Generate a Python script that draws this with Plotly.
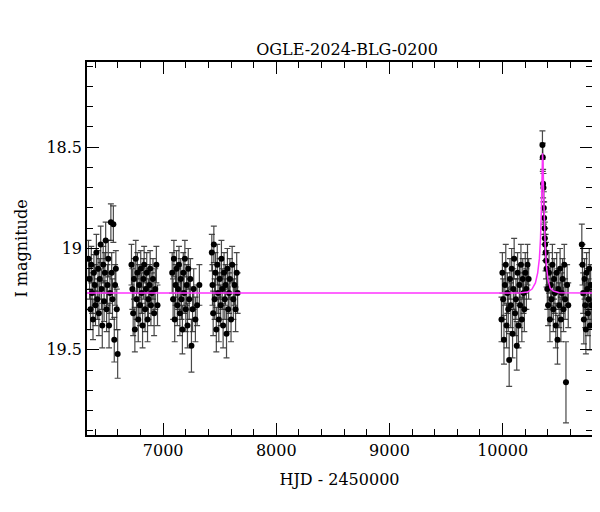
import plotly.graph_objects as go

# observations: HJD-2450000, I mag, error
hjd = [6340,6350,6358,6365,6372,6380,6388,6395,6402,6410,6418,6425,6432,6440,6448,6455,6462,6470,6478,6485,6492,6500,6508,6515,6522,6530,6538,6545,6552,6560,6568,6575,6582,6590,6598,
       6720,6728,6735,6742,6750,6758,6765,6772,6780,6788,6795,6802,6810,6818,6825,6832,6840,6848,6855,6862,6870,6878,6885,6892,6900,6910,6920,6930,6940,6950,
       7080,7088,7095,7102,7110,7118,7125,7132,7140,7148,7155,7162,7170,7178,7185,7192,7200,7208,7215,7222,7230,7240,7250,7260,7270,7285,7300,7320,
       7430,7436,7442,7448,7455,7462,7470,7478,7485,7492,7500,7508,7515,7522,7530,7538,7545,7552,7560,7568,7575,7582,7590,7600,7610,7620,7630,7640,7650,7658,
       9990,9998,10005,10012,10020,10028,10035,10042,10050,10058,10065,10072,10080,10088,10095,10102,10110,10118,10125,10132,10140,10148,10155,10162,10170,10178,10185,10192,10200,10210,10220,10230,
       10352,10355,10358,10361,10364,10367,10370,10373,10376,10380,10384,10388,
       10395,10402,10410,10418,10425,10432,10440,10448,10455,10462,10470,10478,10485,10492,10500,10508,10515,10522,10530,10538,10545,10552,10560,10570,10580,
       10700,10706,10712,10718,10724,10730,10736,10742,10748,10754,10760,10766,10772,10778,10784]
mag = [19.05,19.15,19.30,19.08,19.22,19.35,19.12,19.18,19.28,19.02,19.25,19.10,19.32,19.15,18.98,19.20,19.38,19.08,19.26,19.12,18.96,19.30,19.18,19.05,19.38,19.22,18.87,19.12,19.25,18.88,19.45,19.18,19.10,19.30,19.52,
       19.08,19.20,19.32,19.15,19.40,19.05,19.25,19.12,19.35,19.18,19.28,19.10,19.22,19.38,19.15,19.08,19.30,19.20,19.12,19.35,19.25,19.18,19.10,19.28,19.22,19.15,19.32,19.20,19.08,19.28,
       19.12,19.25,19.05,19.35,19.18,19.10,19.28,19.20,19.08,19.32,19.15,19.25,19.40,19.12,19.22,19.05,19.30,19.18,19.38,19.10,19.25,19.15,19.48,19.30,19.20,19.35,19.28,19.18,
       19.02,19.18,19.32,18.98,19.25,19.12,19.40,19.08,19.22,19.35,19.15,19.28,19.05,19.20,19.38,19.12,19.25,19.18,19.42,19.10,19.30,19.22,19.15,19.35,19.08,19.25,19.18,19.30,19.12,19.22,
       19.35,19.12,19.25,19.45,19.18,19.08,19.38,19.22,19.30,19.55,19.15,19.28,19.10,19.42,19.20,19.05,19.32,19.25,19.48,19.12,19.38,19.18,19.28,19.08,19.35,19.15,19.22,19.30,19.12,19.20,19.08,19.15,
       18.49,18.55,18.68,18.70,18.80,18.85,18.90,18.95,18.98,19.02,19.06,19.10,
       19.20,19.28,19.12,19.35,19.18,19.25,19.08,19.30,19.15,19.22,19.38,19.12,19.45,19.20,19.28,19.10,19.35,19.22,19.15,19.30,19.08,19.25,19.66,19.18,19.28,
       18.98,19.08,19.22,19.35,19.15,19.28,19.40,19.12,19.20,19.32,19.25,19.10,19.38,19.18,19.28]
err = [0.09,0.10,0.10,0.09,0.10,0.10,0.09,0.10,0.10,0.09,0.10,0.09,0.11,0.10,0.09,0.10,0.11,0.09,0.10,0.10,0.09,0.11,0.10,0.09,0.11,0.10,0.09,0.10,0.10,0.09,0.11,0.10,0.09,0.10,0.12,
       0.10,0.10,0.11,0.10,0.11,0.09,0.10,0.10,0.11,0.10,0.10,0.09,0.10,0.11,0.10,0.09,0.11,0.10,0.10,0.11,0.10,0.10,0.09,0.10,0.10,0.10,0.11,0.10,0.09,0.10,
       0.10,0.10,0.09,0.11,0.10,0.09,0.10,0.10,0.09,0.11,0.10,0.10,0.12,0.10,0.10,0.09,0.11,0.10,0.11,0.10,0.10,0.10,0.13,0.11,0.10,0.11,0.10,0.10,
       0.09,0.10,0.11,0.09,0.10,0.10,0.11,0.10,0.10,0.11,0.10,0.10,0.09,0.10,0.11,0.10,0.10,0.10,0.12,0.10,0.11,0.10,0.10,0.11,0.09,0.10,0.10,0.11,0.10,0.10,
       0.11,0.10,0.10,0.12,0.10,0.10,0.11,0.10,0.11,0.13,0.10,0.11,0.10,0.12,0.10,0.10,0.11,0.10,0.12,0.10,0.11,0.10,0.11,0.10,0.11,0.10,0.10,0.11,0.10,0.10,0.10,0.10,
       0.07,0.07,0.07,0.07,0.08,0.08,0.08,0.08,0.08,0.09,0.09,0.09,
       0.10,0.10,0.10,0.11,0.10,0.10,0.10,0.11,0.10,0.10,0.11,0.10,0.12,0.10,0.11,0.10,0.11,0.10,0.10,0.11,0.10,0.10,0.20,0.10,0.11,
       0.10,0.10,0.10,0.12,0.10,0.11,0.12,0.10,0.10,0.11,0.10,0.10,0.12,0.10,0.11]

# microlensing model curve, sampled
model_t = [6327,10150,10220,10260,10290,10310,10325,10335,10343,10349,10353,10357,10362,10368,10376,10386,10400,10420,10450,10500,10790]
model_m = [19.22,19.22,19.215,19.20,19.17,19.12,19.05,18.95,18.80,18.64,18.53,18.58,18.72,18.86,18.98,19.08,19.15,19.195,19.21,19.218,19.22]

fig = go.Figure()
fig.add_trace(go.Scatter(x=hjd, y=mag, mode="markers",
    marker=dict(color="black", size=6),
    error_y=dict(type="data", array=err, color="rgba(40,40,40,0.85)", thickness=1.2, width=3)))
fig.add_trace(go.Scatter(x=model_t, y=model_m, mode="lines",
    line=dict(color="#ff33ff", width=1.5)))

font = "DejaVu Serif"
axis_common = dict(showline=True, mirror="allticks", linecolor="black", linewidth=1.5,
                   ticks="inside", ticklen=12, tickcolor="black", showgrid=False, zeroline=False,
                   tickfont=dict(family=font, size=16, color="black"))
fig.update_xaxes(range=[6327, 10790], tick0=6000, dtick=1000, tickformat="d",
                 minor=dict(dtick=200, ticks="inside", ticklen=6, tickcolor="black"),
                 title=dict(text="HJD - 2450000", font=dict(family=font, size=16, color="black")),
                 **axis_common)
fig.update_yaxes(range=[19.92, 18.08], tickvals=[18.5, 19, 19.5], ticktext=["18.5", "19", "19.5"],
                 minor=dict(dtick=0.1, ticks="inside", ticklen=6, tickcolor="black"),
                 title=dict(text="I magnitude", font=dict(family=font, size=16, color="black")),
                 **axis_common)
fig.update_layout(width=600, height=512, plot_bgcolor="white", paper_bgcolor="white",
                  showlegend=False, margin=dict(l=79, r=16, t=54, b=85),
                  title=dict(text="OGLE-2024-BLG-0200", x=0.565, xanchor="center", y=0.93,
                             font=dict(family=font, size=16, color="black")))
fig.write_html("out.html")
